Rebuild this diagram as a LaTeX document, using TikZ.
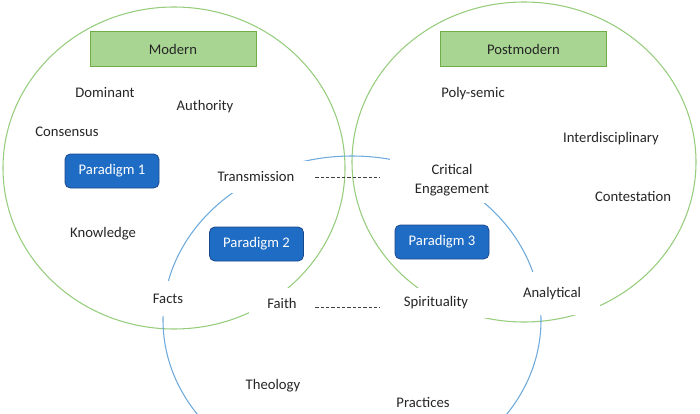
\documentclass[tikz,border=0pt]{standalone}
\usepackage{fontspec}
\setmainfont{Carlito}
\usetikzlibrary{positioning}
\definecolor{ringgreen}{RGB}{150,205,125}
\definecolor{ringblue}{RGB}{110,170,220}
\definecolor{headfill}{RGB}{168,214,146}
\definecolor{headdraw}{RGB}{112,173,71}
\definecolor{pfill}{RGB}{31,108,196}
\definecolor{pdraw}{RGB}{26,72,140}

\begin{document}
\begin{tikzpicture}[
    x=0.75pt, y=-0.75pt,
    font=\fontsize{11}{13}\selectfont,
    greenring/.style={draw=ringgreen, line width=0.8pt},
    bluering/.style={draw=ringblue, line width=0.8pt},
    headbox/.style={fill=headfill, draw=headdraw, line width=0.6pt, minimum width=124.5pt, minimum height=26.25pt, text=black!85},
    paradigm/.style={fill=pfill, draw=pdraw, line width=0.6pt, rounded corners=4pt, minimum width=70.5pt, minimum height=25.5pt, text=white},
    term/.style={fill=white, inner sep=1pt, text=black!85},
    dashln/.style={dashed, dash pattern=on 2.5pt off 1.5pt, line width=0.5pt, black!75},
]
\useasboundingbox (0,0) rectangle (700,414);
\clip (0,0) rectangle (700,414);
\draw[greenring] (174,168) ellipse [x radius=171, y radius=161];
\draw[greenring] (524,162) ellipse [x radius=172, y radius=160];
\draw[bluering] (352,320) ellipse [x radius=189, y radius=164];

\node[headbox] (modern) at (173,49) {Modern};
\node[headbox] (postmodern) at (523.5,49) {Postmodern};

\node[paradigm] (p1) at (112,171) {Paradigm 1};
\node[paradigm] (p2) at (256.5,244) {Paradigm 2};
\node[paradigm] (p3) at (442,242) {Paradigm 3};

\node[term] (dominant) at (105,93) {Dominant};
\node[term] (authority) at (205,107) {Authority};
\node[term] (consensus) at (67,132) {Consensus};
\node[term] (knowledge) at (103,234) {Knowledge};
\node[term] (theology) at (273,386) {Theology};
\node[term] (polysemic) at (473,94) {Poly-semic};
\node[term] (interdisc) at (611,139) {Interdisciplinary};
\node[term] (contest) at (633,196) {Contestation};
\node[term] (practices) at (423,402) {Practices};

\node[term, minimum width=88.5pt, minimum height=24pt] (trans) at (256,177) {Transmission};
\node[term, minimum width=93pt, minimum height=34pt, align=center, font=\fontsize{11}{14.25}\selectfont] (crit) at (452,180) {Critical\\Engagement};
\node[term, minimum width=37.5pt, minimum height=26.25pt] (facts) at (168,298.5) {Facts};
\node[term, minimum width=49.5pt, minimum height=22.5pt] (faith) at (282,303) {Faith};
\node[term, minimum width=84pt, minimum height=22.5pt] (spir) at (436,303) {Spirituality};
\node[term, minimum width=72pt, minimum height=32.25pt] (analyt) at (552,293.5) {Analytical};

\draw[dashln, shorten >=7.5pt] (trans.east) -- (trans.east -| crit.west);
\draw[dashln] ([yshift=-3pt]faith.east) -- ([yshift=-3pt]spir.west);
\end{tikzpicture}
\end{document}
